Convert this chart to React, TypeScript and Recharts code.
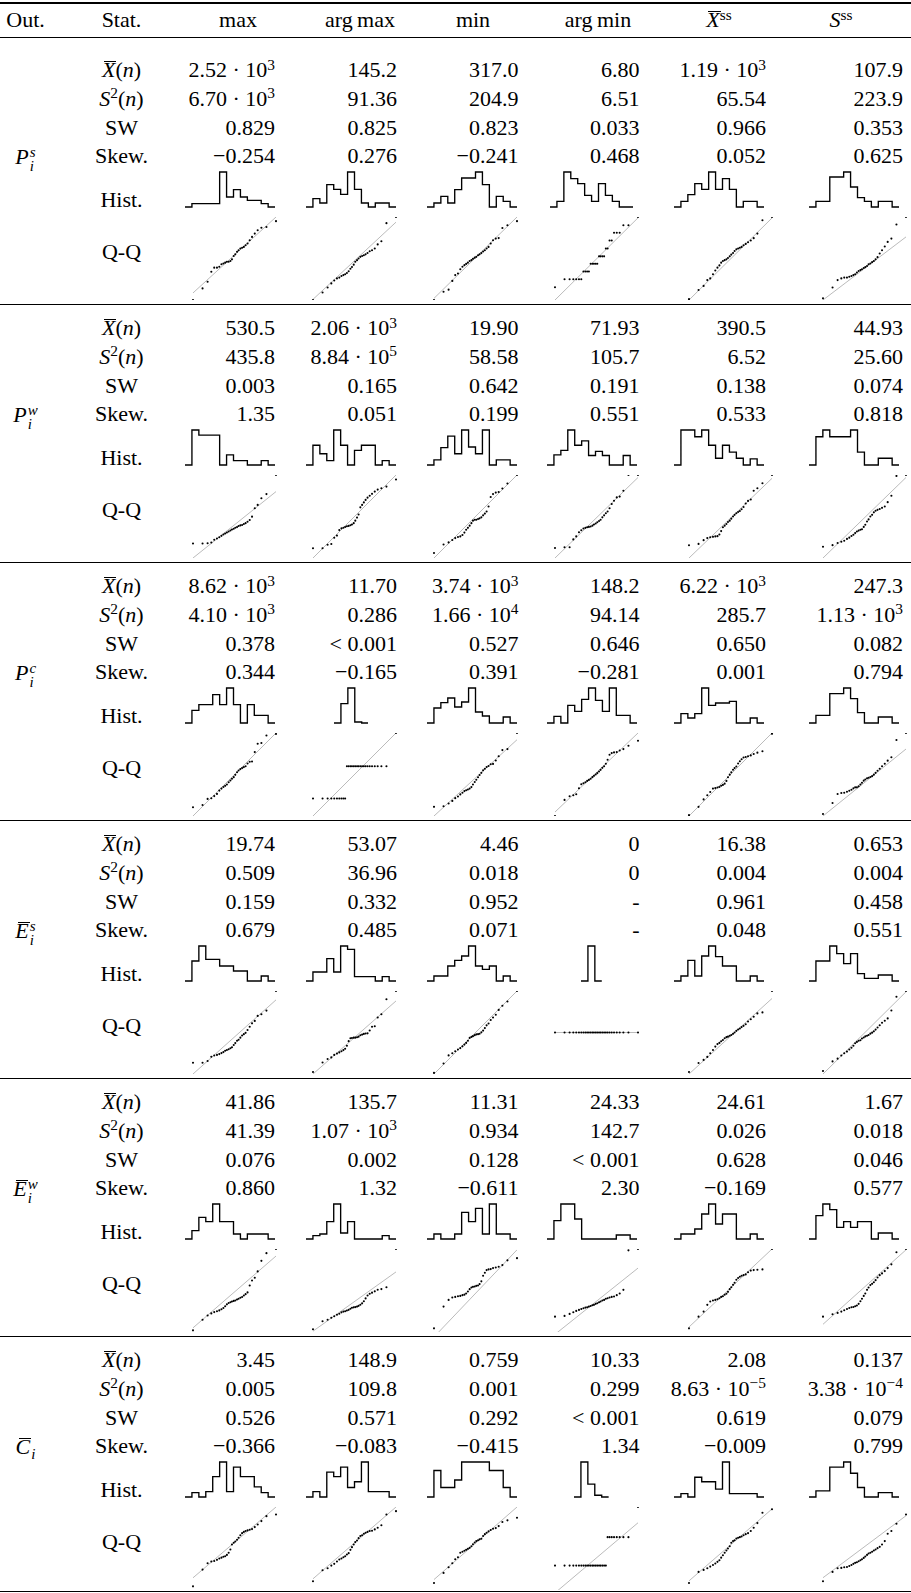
import React from "react";
import { LineChart, Line, XAxis, YAxis, ScatterChart, Scatter, ReferenceLine } from "recharts";

// theoretical normal quantiles shared by every Q-Q panel (30 points)
const qqTheory = [
  -2.13, -1.64, -1.38, -1.19, -1.04, -0.9, -0.78, -0.67, -0.57, -0.48, -0.39, -0.3, -0.21, -0.13, -0.04,
  0.04, 0.13, 0.21, 0.3, 0.39, 0.48, 0.57, 0.67, 0.78, 0.9, 1.04, 1.19, 1.38, 1.64, 2.13,
];

// ---- P_i^s
const psMean = ["2.52·10^3", "145.2", "317.0", "6.80", "1.19·10^3", "107.9"];
const psVar = ["6.70·10^3", "91.36", "204.9", "6.51", "65.54", "223.9"];
const psSW = ["0.829", "0.825", "0.823", "0.033", "0.966", "0.353"];
const psSkew = ["−0.254", "0.276", "−0.241", "0.468", "0.052", "0.625"];
const psHist = [
  [1, 1, 1, 1, 10.5, 3, 5.2, 3, 2, 2, 1],
  [2.5, 1.2, 6.7, 5.3, 3.8, 10.5, 5.3, 1.2, 0, 1.2, 1.2],
  [1.2, 3.2, 1.2, 5.2, 8.7, 8.7, 10.5, 6.7, 0, 3.2, 1.7],
  [1.7, 10.5, 8.5, 7, 3.5, 1.7, 7, 3.5, 1.7, 0],
  [1.7, 3.7, 7, 5.3, 10.5, 5.3, 8.5, 5.3, 0, 1.7, 1.7],
  [1.7, 1.7, 9, 9, 10.5, 6, 2.8, 1.7, 0, 1.7, 1.7],
];
const psQQ = [
  [0, 14, 22, 34, 39, 39, 40, 43, 44, 45, 46, 46, 47, 49, 53, 55, 58, 60, 62, 63, 64, 66, 68, 72, 76, 80, 84, 87, 88, 95],
  [0, 9, 15, 20, 23.5, 26, 27, 29, 30, 31, 32.6, 34.7, 37.6, 39.7, 42.6, 46, 48, 50, 52, 53, 54, 55, 56.6, 58.7, 60, 62, 67, 70.7, 92.6, 100],
  [0, 10, 12.5, 23, 30, 32, 37, 40, 42, 43.5, 45, 47, 48, 49.6, 51, 52, 54, 55, 56.5, 58.5, 60, 62, 64, 68, 72, 74, 74.6, 86.7, 90, 95],
  [15.4, 25, 25, 25, 25, 25, 25, 34.4, 34.4, 34.4, 34.4, 43.7, 43.7, 43.7, 43.7, 43.7, 52.6, 52.6, 52.6, 52.6, 62, 62, 71.7, 71.7, 81, 81, 81, 90, 90, 100],
  [1, 12, 17, 24, 26, 31, 35.6, 39, 41.7, 45, 47, 48, 49, 50.6, 52.6, 54.7, 56.7, 59, 61, 62, 63, 64, 66, 67.6, 69.6, 71.7, 74.5, 80, 96, 100],
  [2, 15, 24, 26, 27, 27, 28, 29, 30, 31, 33, 35, 36, 37, 38.5, 39.6, 41, 43, 44, 45.6, 47, 49, 51.6, 56, 60, 64.4, 70, 74, 91, 100],
];
const psLine = [[8.5, 100], [0.8, 93.8], [2, 100], [0, 99], [0, 98.8], [0, 76]];

// ---- P_i^w
const pwMean = ["530.5", "2.06·10^3", "19.90", "71.93", "390.5", "44.93"];
const pwVar = ["435.8", "8.84·10^5", "58.58", "105.7", "6.52", "25.60"];
const pwSW = ["0.003", "0.165", "0.642", "0.191", "0.138", "0.074"];
const pwSkew = ["1.35", "0.051", "0.199", "0.551", "0.533", "0.818"];
const pwHist = [
  [10.3, 8.8, 8.8, 8.8, 0, 3, 1.3, 1.3, 0, 0, 1.3],
  [5.8, 3.3, 1.3, 10.3, 5.8, 0, 4.3, 5.8, 5.8, 0, 1.3],
  [1.5, 5.1, 8.5, 3.3, 10.3, 5.3, 3.3, 10.3, 0, 1.5, 1.5],
  [3, 4.3, 10.3, 5.8, 7.1, 2.8, 4, 2.8, 0, 0, 2.8],
  [10.3, 10.3, 8.3, 10.3, 5.8, 2, 5.8, 3.8, 2, 0, 1.8],
  [8.3, 10.3, 8.3, 8.3, 8.3, 10.3, 3.8, 0, 0, 2, 2],
];
const pwQQ = [
  [17.4, 17.4, 17.8, 18.6, 22, 23.5, 25, 26.7, 28.3, 29.5, 30.8, 32, 33.2, 34.4, 35.2, 36.4, 37.2, 38.5, 39.3, 39.7, 40.9, 42, 43.7, 45.7, 49.8, 60, 64, 72, 77, 100],
  [11.8, 11.8, 16, 16.8, 24.4, 27, 33.6, 35.7, 36.5, 37.4, 38.2, 38.7, 39.5, 40.3, 42, 45, 48.7, 52.5, 61, 64, 67, 70, 72.7, 75, 77.3, 80, 82.4, 84, 86, 94.5],
  [6, 16.3, 18.8, 21.6, 24, 25.3, 26, 27.8, 30.6, 34, 36.3, 39, 42, 45, 46, 46, 47, 47.8, 49, 51.4, 53.5, 56, 62, 73.5, 77, 78.8, 79.6, 83.7, 89.8, 100],
  [12, 13, 13, 22.4, 26, 31, 33.5, 35.5, 36.3, 37, 37.5, 38, 39, 40.4, 41.6, 43, 44.5, 46, 49, 51.4, 54, 56, 60, 65, 69, 73, 74, 81, 100, 100],
  [15.4, 17, 21.5, 24, 25, 25.5, 26, 26.3, 28.3, 32.4, 37, 39, 41, 43.3, 45, 47.4, 50, 52, 54, 55.5, 56.7, 58.7, 61.5, 65.6, 68.8, 70.4, 81, 84, 90, 100],
  [13.5, 15.5, 18, 19.6, 20.8, 23, 24.5, 26.5, 28, 30, 32, 33, 34, 34.7, 37.5, 40, 44, 46.5, 50, 52, 55, 57, 58, 59, 60.4, 62, 67.3, 75, 98.8, 100],
];
const pwLine = [[0, 80], [0, 100], [0, 100], [0, 97], [0, 96], [0, 97]];

// ---- P_i^c
const pcMean = ["8.62·10^3", "11.70", "3.74·10^3", "148.2", "6.22·10^3", "247.3"];
const pcVar = ["4.10·10^3", "0.286", "1.66·10^4", "94.14", "285.7", "1.13·10^3"];
const pcSW = ["0.378", "< 0.001", "0.527", "0.646", "0.650", "0.082"];
const pcSkew = ["0.344", "−0.165", "0.391", "−0.281", "0.001", "0.794"];
const pcHist = [
  [3.8, 5.5, 5.5, 8.5, 5.5, 10.5, 5.5, 0, 5.5, 2.3, 2.3],
  [5.8, 10.5, 0.3],
  [4.5, 6.1, 7.5, 4.8, 6.3, 10.5, 3.3, 2.1, 0, 0, 1.8],
  [2, 0, 5.3, 3.5, 7.1, 10.5, 6.8, 3.5, 10.5, 2.3, 2.3],
  [2.8, 1.5, 2.8, 10.5, 5.3, 6, 6, 6.5, 0, 0, 1.5],
  [2.3, 2.3, 8.8, 8.8, 10.5, 7.3, 3.1, 0, 0, 1.8, 1.8],
];
const pcQQ = [
  [10.5, 13.3, 20.6, 21.4, 24, 26.6, 30.6, 33, 35, 36.3, 38, 40.7, 42.7, 44.8, 46.8, 49.6, 52.8, 54.8, 56.5, 57.7, 58.9, 60, 63.3, 65.3, 65.7, 77, 87, 88, 97, 98.8],
  [21, 21, 21, 21, 21, 21, 21, 21, 21, 21, 60, 60, 60, 60, 60, 60, 60, 60, 60, 60, 60, 60, 60, 60, 60, 60, 60, 60, 60, 100],
  [11, 11.7, 15, 18.2, 21.5, 23.5, 26, 28, 30, 31, 32, 33, 34.8, 38, 41, 43.7, 46.6, 49.4, 52, 55, 57, 59, 60.3, 62.3, 62.8, 66.8, 72, 79.4, 80.6, 100],
  [0, 19.4, 23.8, 25, 26.2, 33.5, 38.3, 39.5, 40.7, 42.3, 43.5, 44.8, 46.8, 48.4, 50, 51.6, 53.6, 55.6, 58, 60, 63, 67.7, 73.8, 75.8, 76.6, 77, 79, 80.6, 84.7, 90.7],
  [1, 11, 20, 25, 29, 33, 33.6, 34.4, 35, 36.4, 37.5, 39, 42.3, 46.6, 49.8, 52.6, 55.7, 57.7, 59.7, 63.2, 66, 68.4, 70.4, 71, 72, 73, 74.7, 76.3, 78, 99],
  [2.4, 15.7, 26.5, 27.7, 28, 29.3, 30.5, 31.7, 33.3, 34.5, 34.5, 35.7, 38, 40, 42.6, 44, 45.4, 46, 47, 48, 49.8, 52, 54.6, 57, 60, 63, 66.7, 70.7, 91.6, 100],
];
const pcLine = [[0, 100], [0, 100], [0, 91.9], [4.8, 100], [0, 100], [0, 80.7]];

// ---- E_i^s
const esMean = ["19.74", "53.07", "4.46", "0", "16.38", "0.653"];
const esVar = ["0.509", "36.96", "0.018", "0", "0.004", "0.004"];
const esSW = ["0.159", "0.332", "0.952", "-", "0.961", "0.458"];
const esSkew = ["0.679", "0.485", "0.071", "-", "0.048", "0.551"];
const esHist = [
  [6, 10.5, 6.5, 6.5, 4.5, 4.5, 3, 3, 0, 0, 1.5],
  [2.7, 2.7, 6.7, 2.7, 10.5, 9.5, 1.3, 1.3, 1.3, 0, 1.3],
  [1.5, 1.5, 4.5, 6.2, 7.5, 10.5, 4.5, 3.5, 4.5, 0, 1.5],
  [10.5],
  [1.5, 6.2, 1.5, 7.5, 10.5, 7.3, 4.5, 4.5, 0, 0, 1.5],
  [6, 6, 10.5, 8.2, 5.2, 8.2, 2.2, 0.8, 0.8, 1.8, 1.8],
];
const esQQ = [
  [13.6, 13.6, 15.7, 20.7, 22.3, 23, 24, 25.2, 26.4, 28, 29, 29.8, 31, 32.2, 35, 37.2, 40, 41.3, 43.8, 46.3, 48, 49.6, 53, 57, 61, 64, 70, 72, 76.4, 100],
  [2.5, 13.8, 18, 20, 23, 24.6, 26, 27.5, 28.8, 30.4, 34, 39.6, 43, 43.3, 43.8, 43.8, 44.2, 45, 46.7, 47.5, 48.3, 48.8, 49, 52.5, 57, 57.5, 68, 72, 90, 100],
  [1.3, 12.7, 22.4, 25, 27.4, 29.5, 31.2, 33.3, 35.4, 37.5, 40, 43.5, 44.7, 45.6, 46.8, 47.7, 48, 48.5, 50.2, 52.3, 55.3, 58.6, 60.8, 65, 68, 71.3, 77.2, 82.3, 87.3, 100],
  [50, 50, 50, 50, 50, 50, 50, 50, 50, 50, 50, 50, 50, 50, 50, 50, 50, 50, 50, 50, 50, 50, 50, 50, 50, 50, 50, 50, 50, 50],
  [2.4, 13.3, 17, 20.6, 25, 29, 33, 36, 37.5, 39.5, 41, 43, 44.4, 45, 46, 47, 48.4, 50, 52, 53.6, 54.8, 56.5, 58, 60, 63.3, 66, 69, 73, 74.2, 100],
  [3.7, 15.2, 18.5, 22.2, 25, 27, 29.6, 31.7, 34, 37, 38.7, 40, 40.7, 42.8, 44, 45.3, 46, 47, 48.6, 49.8, 51.4, 53.5, 56, 58.8, 61.7, 64.2, 67, 76.5, 93, 100],
];
const esLine = [[0, 89.3], [0, 88], [0, 100], [50, 50], [0, 91], [0, 99]];

// ---- E_i^w
const ewMean = ["41.86", "135.7", "11.31", "24.33", "24.61", "1.67"];
const ewVar = ["41.39", "1.07·10^3", "0.934", "142.7", "0.026", "0.018"];
const ewSW = ["0.076", "0.002", "0.128", "< 0.001", "0.628", "0.046"];
const ewSkew = ["0.860", "1.32", "−0.611", "2.30", "−0.169", "0.577"];
const ewHist = [
  [2.5, 6.5, 5.2, 10.5, 5.2, 5.2, 1.5, 0, 1.5, 1.5, 1.5],
  [1, 1.5, 5.2, 10.5, 1.8, 5.2, 0, 0, 0, 0, 1],
  [1.5, 0, 0, 1.5, 8, 5.2, 9.2, 1.5, 10.5, 1.5, 1.5],
  [5.5, 10.5, 10.5, 6, 0, 0, 0, 0, 0, 1.2, 1.2],
  [1.5, 1.5, 3, 7.5, 10.5, 4.5, 7.5, 7.5, 0, 0, 1.5],
  [7, 10.5, 8.8, 3.5, 5.2, 3.5, 5.2, 5.2, 0, 1.8, 1.8],
];
const ewQQ = [
  [2, 14.8, 19.8, 22.4, 24, 25, 26, 27.4, 29, 31, 33.3, 35, 35.9, 36.7, 37.5, 38, 39.2, 40, 41.3, 42.2, 43.9, 45.6, 47.7, 56, 62, 65.4, 73, 85.7, 95, 100],
  [3.4, 13, 14.7, 17.2, 19, 20.7, 22, 23.7, 24.6, 25, 25.9, 26.7, 28, 29.3, 29.7, 30, 30.6, 31.5, 32.8, 34.5, 37, 40.5, 44, 46, 47.4, 49, 50.9, 51.7, 53.9, 100],
  [4.4, 30.6, 38.7, 41.5, 42.3, 43, 43.5, 44.4, 45, 46.4, 48.8, 51.6, 53.6, 54.4, 54.8, 55.6, 56, 57.7, 61, 67.7, 71.4, 74.6, 75.4, 75.8, 77, 77.8, 78.6, 80.6, 86.3, 89],
  [18.5, 19.4, 21.8, 23.8, 25.4, 26.6, 27.8, 28.6, 29.4, 29.8, 30.6, 31.4, 32.3, 32.7, 33.9, 34.7, 35.9, 36.7, 37.9, 38.7, 40, 40.7, 41.5, 42.3, 42.7, 44.4, 46.4, 50.8, 98.4, 100],
  [4.4, 18.5, 24.6, 32.7, 36.7, 37.9, 38.7, 39.5, 40.7, 42.3, 43, 44.8, 46, 48.4, 51.6, 54, 56.8, 59.3, 62.9, 65, 66.5, 67.7, 68.5, 69.4, 72, 74, 74.6, 75, 75.4, 100],
  [18.5, 21.4, 23, 24.6, 26.2, 27.8, 29, 29.8, 30.2, 31, 31.9, 33.9, 37, 40, 43.5, 46.4, 50.8, 53.6, 56.5, 58, 60, 62.5, 65.7, 68.5, 70.6, 73.4, 77, 81.5, 96, 100],
];
const ewLine = [[5, 91.5], [1, 72.4], [-6, 99], [-2.8, 77], [6, 100], [9.3, 99]];

// ---- C_i
const ciMean = ["3.45", "148.9", "0.759", "10.33", "2.08", "0.137"];
const ciVar = ["0.005", "109.8", "0.001", "0.299", "8.63·10^−5", "3.38·10^−4"];
const ciSW = ["0.526", "0.571", "0.292", "< 0.001", "0.619", "0.079"];
const ciSkew = ["−0.366", "−0.083", "−0.415", "1.34", "−0.009", "0.799"];
const ciHist = [
  [1.3, 0, 1.6, 6, 10.3, 1.6, 8.8, 6, 6, 3, 1.3],
  [1.6, 0, 7.3, 6, 8.8, 2.8, 4.5, 10.3, 1.6, 1.6, 1.6],
  [7.8, 2.8, 2.8, 5, 10.3, 10.3, 10.3, 10.3, 7.8, 7.8, 2.8],
  [10.3, 3.8, 0.5],
  [1, 0, 5.8, 4.5, 4.5, 2.3, 10.3, 1, 1, 1, 1],
  [1.8, 1.8, 8.8, 8.8, 10.3, 7, 2.8, 0, 0, 1.3, 1.3],
];
const ciQQ = [
  [4.4, 24.6, 32.3, 34.3, 35, 36.3, 37.9, 39, 40, 40.7, 42.3, 44.8, 48.8, 54.8, 56.9, 58.5, 60.5, 63, 66, 68.5, 70, 71, 71.8, 72.6, 73.4, 75.8, 79, 83, 89, 91],
  [10.5, 23.8, 26.2, 29.4, 31.5, 34.3, 36.7, 37.9, 39.5, 40.7, 42.7, 44.4, 48.4, 51.6, 54.8, 57.7, 59.7, 62.5, 65, 66, 67.7, 69, 70, 71, 71.4, 73, 75, 78, 91, 95],
  [8.5, 20.6, 27.4, 32.3, 37, 39.5, 44.8, 46, 47.2, 48.4, 49.6, 50.8, 52.8, 55.2, 57.3, 58.9, 60, 61, 61.7, 65, 67.3, 69, 70.6, 72.2, 73.8, 74.6, 77, 81.9, 83.9, 87],
  [29.4, 29.4, 29.4, 29.4, 29.4, 29.4, 29.4, 29.4, 29.4, 29.4, 29.4, 29.4, 29.4, 29.4, 29.4, 29.4, 29.4, 29.4, 29.4, 29.4, 29.4, 63.7, 63.7, 63.7, 63.7, 63.7, 63.7, 63.7, 63.7, 100],
  [8.5, 21.8, 24.2, 26.2, 28.2, 30.2, 31.9, 33.9, 35.9, 39, 41.9, 44.8, 47.6, 50, 52.8, 56.9, 58.9, 60, 62, 62.9, 63.7, 64.5, 66, 67.3, 68.5, 71, 75, 80.6, 93, 97.2],
  [10.5, 21.8, 26.2, 26.6, 27.4, 27.8, 29, 30.2, 31.5, 32.7, 33.5, 34.7, 35.9, 37, 38.7, 40.3, 42.3, 44, 44.8, 46, 47.6, 48.8, 50.4, 52, 54.8, 58.9, 67.7, 71, 79.8, 91],
];
const ciLine = [[14.7, 100], [13.5, 100], [12.6, 100], [-3.5, 81], [11, 97.6], [14.8, 89.5]];

// ---- layout
const FONT = '"Liberation Serif", "Times New Roman", serif';
const FS = 22;
const LH = 26;
const PITCH = 258;
const textRight = [275, 397, 518.5, 639.5, 766, 903];
const headCenter = [238, 360, 473, 598, 719, 841];
const histCenter = [230, 351, 471.7, 591.7, 719.3, 853.7];
const qqLeft = [193.3, 313.3, 434.3, 555, 689.3, 823.3];
const BIN_W = 6.93;
const HIST_TOP = 171.7;
const HIST_H = 35;
const QQ_TOP = 216.7;
const QQ = 83;
const SKEW_Y = 156;
const OUT_X = 25.5;
const STAT_X = 121.5;

function Ov({ children, shift = 2 }: any) {
  return (
    <span style={{ position: "relative", display: "inline-block" }}>
      <span style={{ position: "absolute", left: shift, right: -1, top: 3.5, borderTop: "1.1px solid #000" }} />
      {children}
    </span>
  );
}

function Sup({ children }: any) {
  return <span style={{ fontSize: "0.7em", position: "relative", top: "-0.5em" }}>{children}</span>;
}

function Val({ v }: { v: string }) {
  const [base, exp] = v.split("^");
  const b = base.replace("·", "\u2005·\u2005").replace("< ", "<\u2005");
  return (
    <>
      {b}
      {exp && <Sup>{exp}</Sup>}
    </>
  );
}

function At({ x, y, align, children }: any) {
  const w = 220;
  const left = align === "right" ? x - w : x - w / 2;
  return (
    <div
      style={{
        position: "absolute",
        left,
        width: w,
        top: y - 12.9,
        height: LH,
        lineHeight: LH + "px",
        textAlign: align === "right" ? "right" : "center",
        whiteSpace: "nowrap",
      }}
    >
      {children}
    </div>
  );
}

function OutLabel({ letter, sup, bar }: any) {
  const L = <i>{letter}</i>;
  return (
    <span style={{ whiteSpace: "nowrap" }}>
      {bar ? <Ov shift={3}>{L}</Ov> : L}
      <span
        style={{
          display: "inline-flex",
          flexDirection: "column",
          fontSize: 15,
          lineHeight: "14px",
          verticalAlign: sup ? 7 : -5,
          marginLeft: 1,
          fontStyle: "italic",
          textAlign: "left",
        }}
      >
        {sup && <span>{sup}</span>}
        <span>i</span>
      </span>
    </span>
  );
}

function Hist({ bins, cx, top }: { bins: number[]; cx: number; top: number }) {
  const n = bins.length;
  const data = [{ x: 0, y: 0 }, ...bins.map((h, i) => ({ x: i + 1, y: h })), { x: n + 1, y: 0 }, { x: n + 2, y: 0 }];
  const w = (n + 2) * BIN_W;
  return (
    <div style={{ position: "absolute", left: cx - w / 2, top: top - 1 }}>
      <LineChart width={w} height={HIST_H + 2} data={data} margin={{ top: 1, right: 0, bottom: 1, left: 0 }}>
        <XAxis dataKey="x" type="number" domain={[0, n + 2]} hide />
        <YAxis type="number" domain={[0, "dataMax"]} hide />
        <Line type="stepAfter" dataKey="y" stroke="#000" strokeWidth={1.35} dot={false} isAnimationActive={false} />
      </LineChart>
    </div>
  );
}

const qqDot = (p: any) => <circle cx={p.cx} cy={p.cy} r={1.05} fill="#000" />;

function QQPlot({ values, line, left, top }: { values: number[]; line: number[]; left: number; top: number }) {
  const pts = values.map((v, i) => ({ x: qqTheory[i], y: v }));
  const x0 = qqTheory[0];
  const x1 = qqTheory[qqTheory.length - 1];
  return (
    <div style={{ position: "absolute", left: left - 2, top: top - 2 }}>
      <ScatterChart width={QQ + 4} height={QQ + 4} margin={{ top: 2, right: 2, bottom: 2, left: 2 }}>
        <XAxis dataKey="x" type="number" domain={[x0, x1]} hide />
        <YAxis dataKey="y" type="number" domain={[0, 100]} hide allowDataOverflow />
        <ReferenceLine
          segment={[{ x: x0, y: line[0] }, { x: x1, y: line[1] }]}
          stroke="#b3b3b3"
          strokeWidth={0.9}
          ifOverflow="hidden"
        />
        <Scatter data={pts} shape={qqDot} isAnimationActive={false} />
      </ScatterChart>
    </div>
  );
}

const groups = [
  { label: <OutLabel letter="P" sup="s" />, rows: [psMean, psVar, psSW, psSkew], hist: psHist, qq: psQQ, line: psLine },
  { label: <OutLabel letter="P" sup="w" />, rows: [pwMean, pwVar, pwSW, pwSkew], hist: pwHist, qq: pwQQ, line: pwLine },
  { label: <OutLabel letter="P" sup="c" />, rows: [pcMean, pcVar, pcSW, pcSkew], hist: pcHist, qq: pcQQ, line: pcLine },
  { label: <OutLabel letter="E" sup="s" bar />, rows: [esMean, esVar, esSW, esSkew], hist: esHist, qq: esQQ, line: esLine },
  { label: <OutLabel letter="E" sup="w" bar />, rows: [ewMean, ewVar, ewSW, ewSkew], hist: ewHist, qq: ewQQ, line: ewLine },
  { label: <OutLabel letter="C" bar />, rows: [ciMean, ciVar, ciSW, ciSkew], hist: ciHist, qq: ciQQ, line: ciLine },
];

const statNames = [
  <>
    <Ov>
      <i>X</i>
    </Ov>
    (<i>n</i>)
  </>,
  <>
    <i>S</i>
    <Sup>2</Sup>(<i>n</i>)
  </>,
  <>SW</>,
  <>Skew.</>,
];

const headers = [
  <>max</>,
  <>arg{"\u2009"}max</>,
  <>min</>,
  <>arg{"\u2009"}min</>,
  <>
    <Ov>
      <i>X</i>
    </Ov>
    <Sup>ss</Sup>
  </>,
  <>
    <i>S</i>
    <Sup>ss</Sup>
  </>,
];

function Rule({ y, t }: { y: number; t: number }) {
  return <div style={{ position: "absolute", left: 0, width: 911, top: y - t / 2, height: t, background: "#000" }} />;
}

export default function App() {
  const rowOff = [-85.8, -57.2, -28.6, 0];
  return (
    <div
      style={{
        position: "absolute",
        left: 0,
        top: 0,
        width: 911,
        height: 1593,
        background: "#fff",
        fontFamily: FONT,
        fontSize: FS,
        color: "#000",
        overflow: "hidden",
      }}
    >
      <Rule y={3} t={1.8} />
      <At x={OUT_X} y={20.3}>Out.</At>
      <At x={STAT_X} y={20.3}>Stat.</At>
      {headers.map((h, c) => (
        <At key={c} x={headCenter[c]} y={20.3}>
          {h}
        </At>
      ))}
      <Rule y={37.5} t={1.1} />
      {groups.map((g, gi) => {
        const base = SKEW_Y + gi * PITCH;
        return (
          <React.Fragment key={gi}>
            <At x={OUT_X} y={base + 1}>
              {g.label}
            </At>
            {statNames.map((s, r) => (
              <At key={"s" + r} x={STAT_X} y={base + rowOff[r]}>
                {s}
              </At>
            ))}
            <At x={STAT_X} y={base + 43.5}>Hist.</At>
            <At x={STAT_X} y={base + 96}>Q-Q</At>
            {g.rows.map((row, r) =>
              row.map((v, c) => (
                <At key={r + "-" + c} x={textRight[c]} y={base + rowOff[r]} align="right">
                  <Val v={v} />
                </At>
              ))
            )}
            {g.hist.map((bins, c) => (
              <Hist key={"h" + c} bins={bins} cx={histCenter[c]} top={HIST_TOP + gi * PITCH} />
            ))}
            {g.qq.map((vals, c) => (
              <QQPlot key={"q" + c} values={vals} line={g.line[c]} left={qqLeft[c]} top={QQ_TOP + gi * PITCH} />
            ))}
            {gi < 5 ? <Rule y={304.3 + gi * PITCH} t={1.1} /> : <Rule y={1591.5} t={1.8} />}
          </React.Fragment>
        );
      })}
    </div>
  );
}
